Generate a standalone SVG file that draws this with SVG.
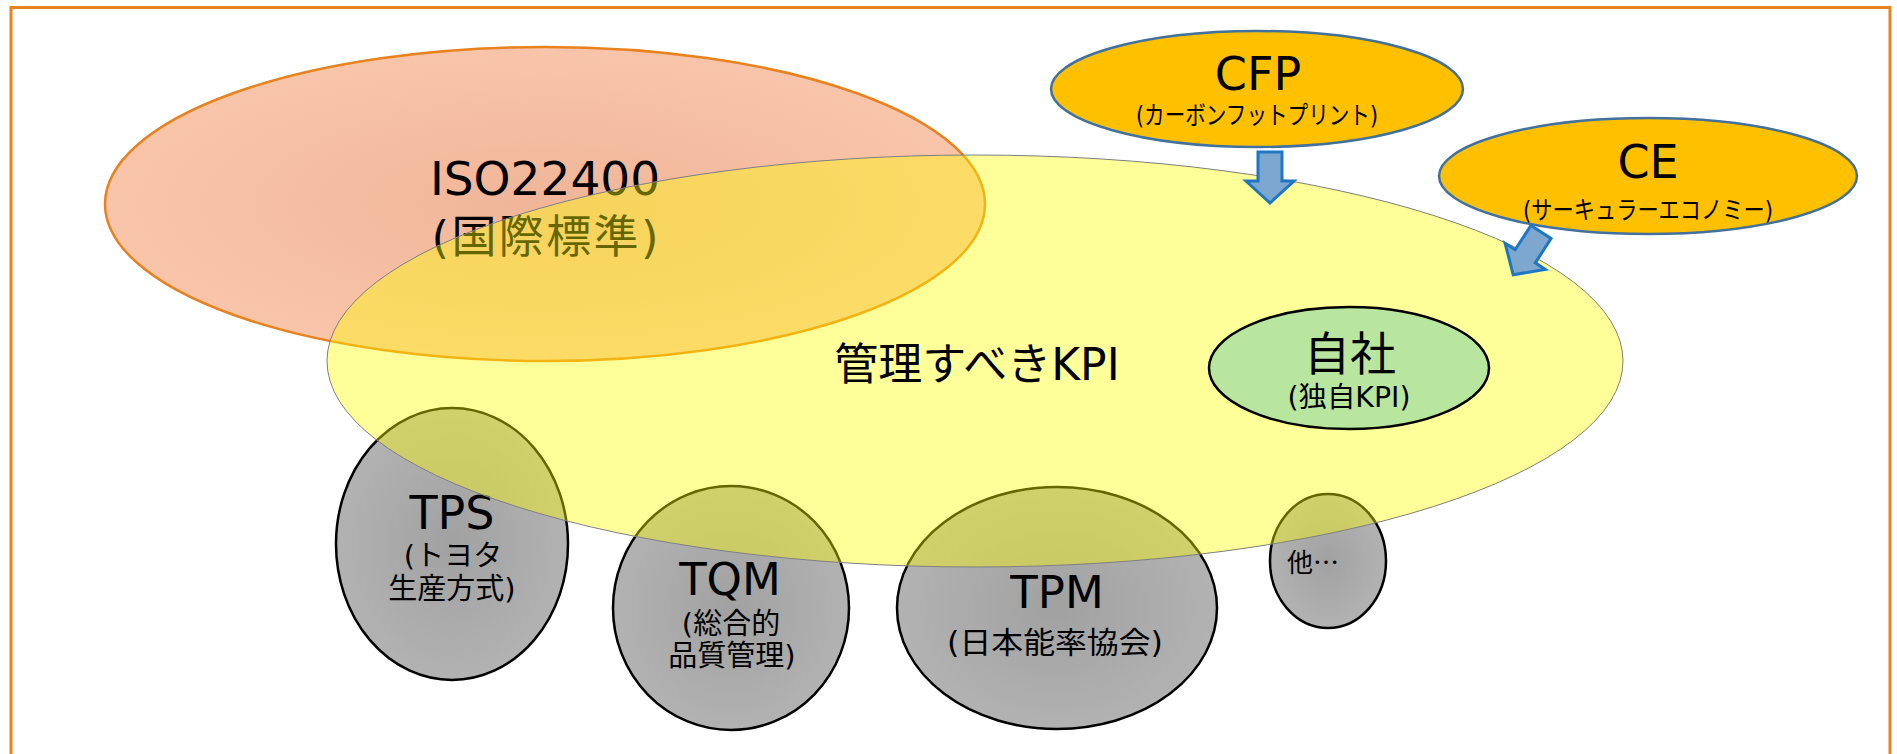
<svg xmlns="http://www.w3.org/2000/svg" width="1897" height="754" viewBox="0 0 1897 754">
  <defs>
    <radialGradient id="gIso" cx="50%" cy="50%" r="50%">
      <stop offset="0" stop-color="#F0B598"/>
      <stop offset="1" stop-color="#F9C5AA"/>
    </radialGradient>
    <radialGradient id="gGray" cx="50%" cy="50%" r="50%">
      <stop offset="0" stop-color="#A1A1A1"/>
      <stop offset="1" stop-color="#B2B2B2"/>
    </radialGradient>
    <path id="blockArrow" d="M -12,0 L 12,0 L 12,29 L 24,29 L 0,51 L -24,29 L -12,29 Z"/>
  </defs>
  <style>
    .lbl { font-family: "DejaVu Sans", "Noto Sans CJK JP", sans-serif; fill: #000; text-anchor: middle; }
    .big { font-size: 46px; }
    .sub { font-size: 29px; }
    .gray { fill: url(#gGray); stroke: #000; stroke-width: 2.5; }
    .orange { fill: #FFC000; stroke: #41719C; stroke-width: 2.5; }
    .arrow { fill: #7DA7CF; stroke: #1F77C4; stroke-width: 3; stroke-linejoin: miter; }
  </style>

  <rect id="frame" x="11" y="7.5" width="1879" height="800" fill="#FFFFFF" stroke="#E8821E" stroke-width="3"/>

  <g id="iso">
    <ellipse cx="545" cy="204" rx="440" ry="157" fill="url(#gIso)" stroke="#E8821E" stroke-width="2.5"/>
    <text class="lbl" x="545" y="195" font-size="47">ISO22400</text>
    <text class="lbl" x="545" y="253" font-size="45" textLength="227">(国際標準)</text>
  </g>

  <g id="tps">
    <ellipse class="gray" cx="452" cy="544" rx="116" ry="136"/>
    <text class="lbl big" x="452" y="529">TPS</text>
    <text class="lbl sub" x="453" y="566">(トヨタ</text>
    <text class="lbl sub" x="452" y="599">生産方式)</text>
  </g>

  <g id="tqm">
    <ellipse class="gray" cx="731" cy="608" rx="118" ry="122"/>
    <text class="lbl" x="730" y="595" font-size="45">TQM</text>
    <text class="lbl sub" x="731" y="634">(総合的</text>
    <text class="lbl sub" x="732" y="666">品質管理)</text>
  </g>

  <g id="tpm">
    <ellipse class="gray" cx="1057" cy="608" rx="160" ry="121"/>
    <text class="lbl" x="1057" y="608" font-size="45">TPM</text>
    <text class="lbl" x="1055" y="653" font-size="30" textLength="216" lengthAdjust="spacingAndGlyphs">(日本能率協会)</text>
  </g>

  <g id="others">
    <ellipse class="gray" cx="1328" cy="561" rx="58" ry="67"/>
    <text x="1287" y="572" font-family="'Noto Sans CJK JP', sans-serif" font-size="26" fill="#000">他…</text>
  </g>

  <g id="kpi">
    <ellipse cx="975" cy="361" rx="648" ry="206" fill="#FFFF00" fill-opacity="0.4" stroke="#7F7F7F" stroke-width="1"/>
    <text class="lbl" x="977" y="380" font-size="44">管理すべきKPI</text>
  </g>

  <g id="own">
    <ellipse cx="1349" cy="368" rx="140" ry="61" fill="#B8E69E" stroke="#000" stroke-width="2.5"/>
    <text class="lbl big" x="1350" y="370">自社</text>
    <text class="lbl" x="1349" y="407" font-size="28" textLength="123" lengthAdjust="spacingAndGlyphs">(独自KPI)</text>
  </g>

  <g id="cfp">
    <ellipse class="orange" cx="1257" cy="89" rx="206" ry="58"/>
    <text class="lbl big" x="1258" y="90">CFP</text>
    <text class="lbl" x="1257" y="124" font-size="25" textLength="242" lengthAdjust="spacingAndGlyphs">(カーボンフットプリント)</text>
  </g>

  <g id="ce">
    <ellipse class="orange" cx="1648" cy="176" rx="209" ry="58"/>
    <text class="lbl big" x="1648" y="178">CE</text>
    <text class="lbl" x="1648" y="219" font-size="25" textLength="250" lengthAdjust="spacingAndGlyphs">(サーキュラーエコノミー)</text>
  </g>

  <g id="connectors">
    <use href="#blockArrow" class="arrow" transform="translate(1270,152)"/>
    <use href="#blockArrow" class="arrow" transform="translate(1541,232) rotate(33)"/>
  </g>
</svg>
